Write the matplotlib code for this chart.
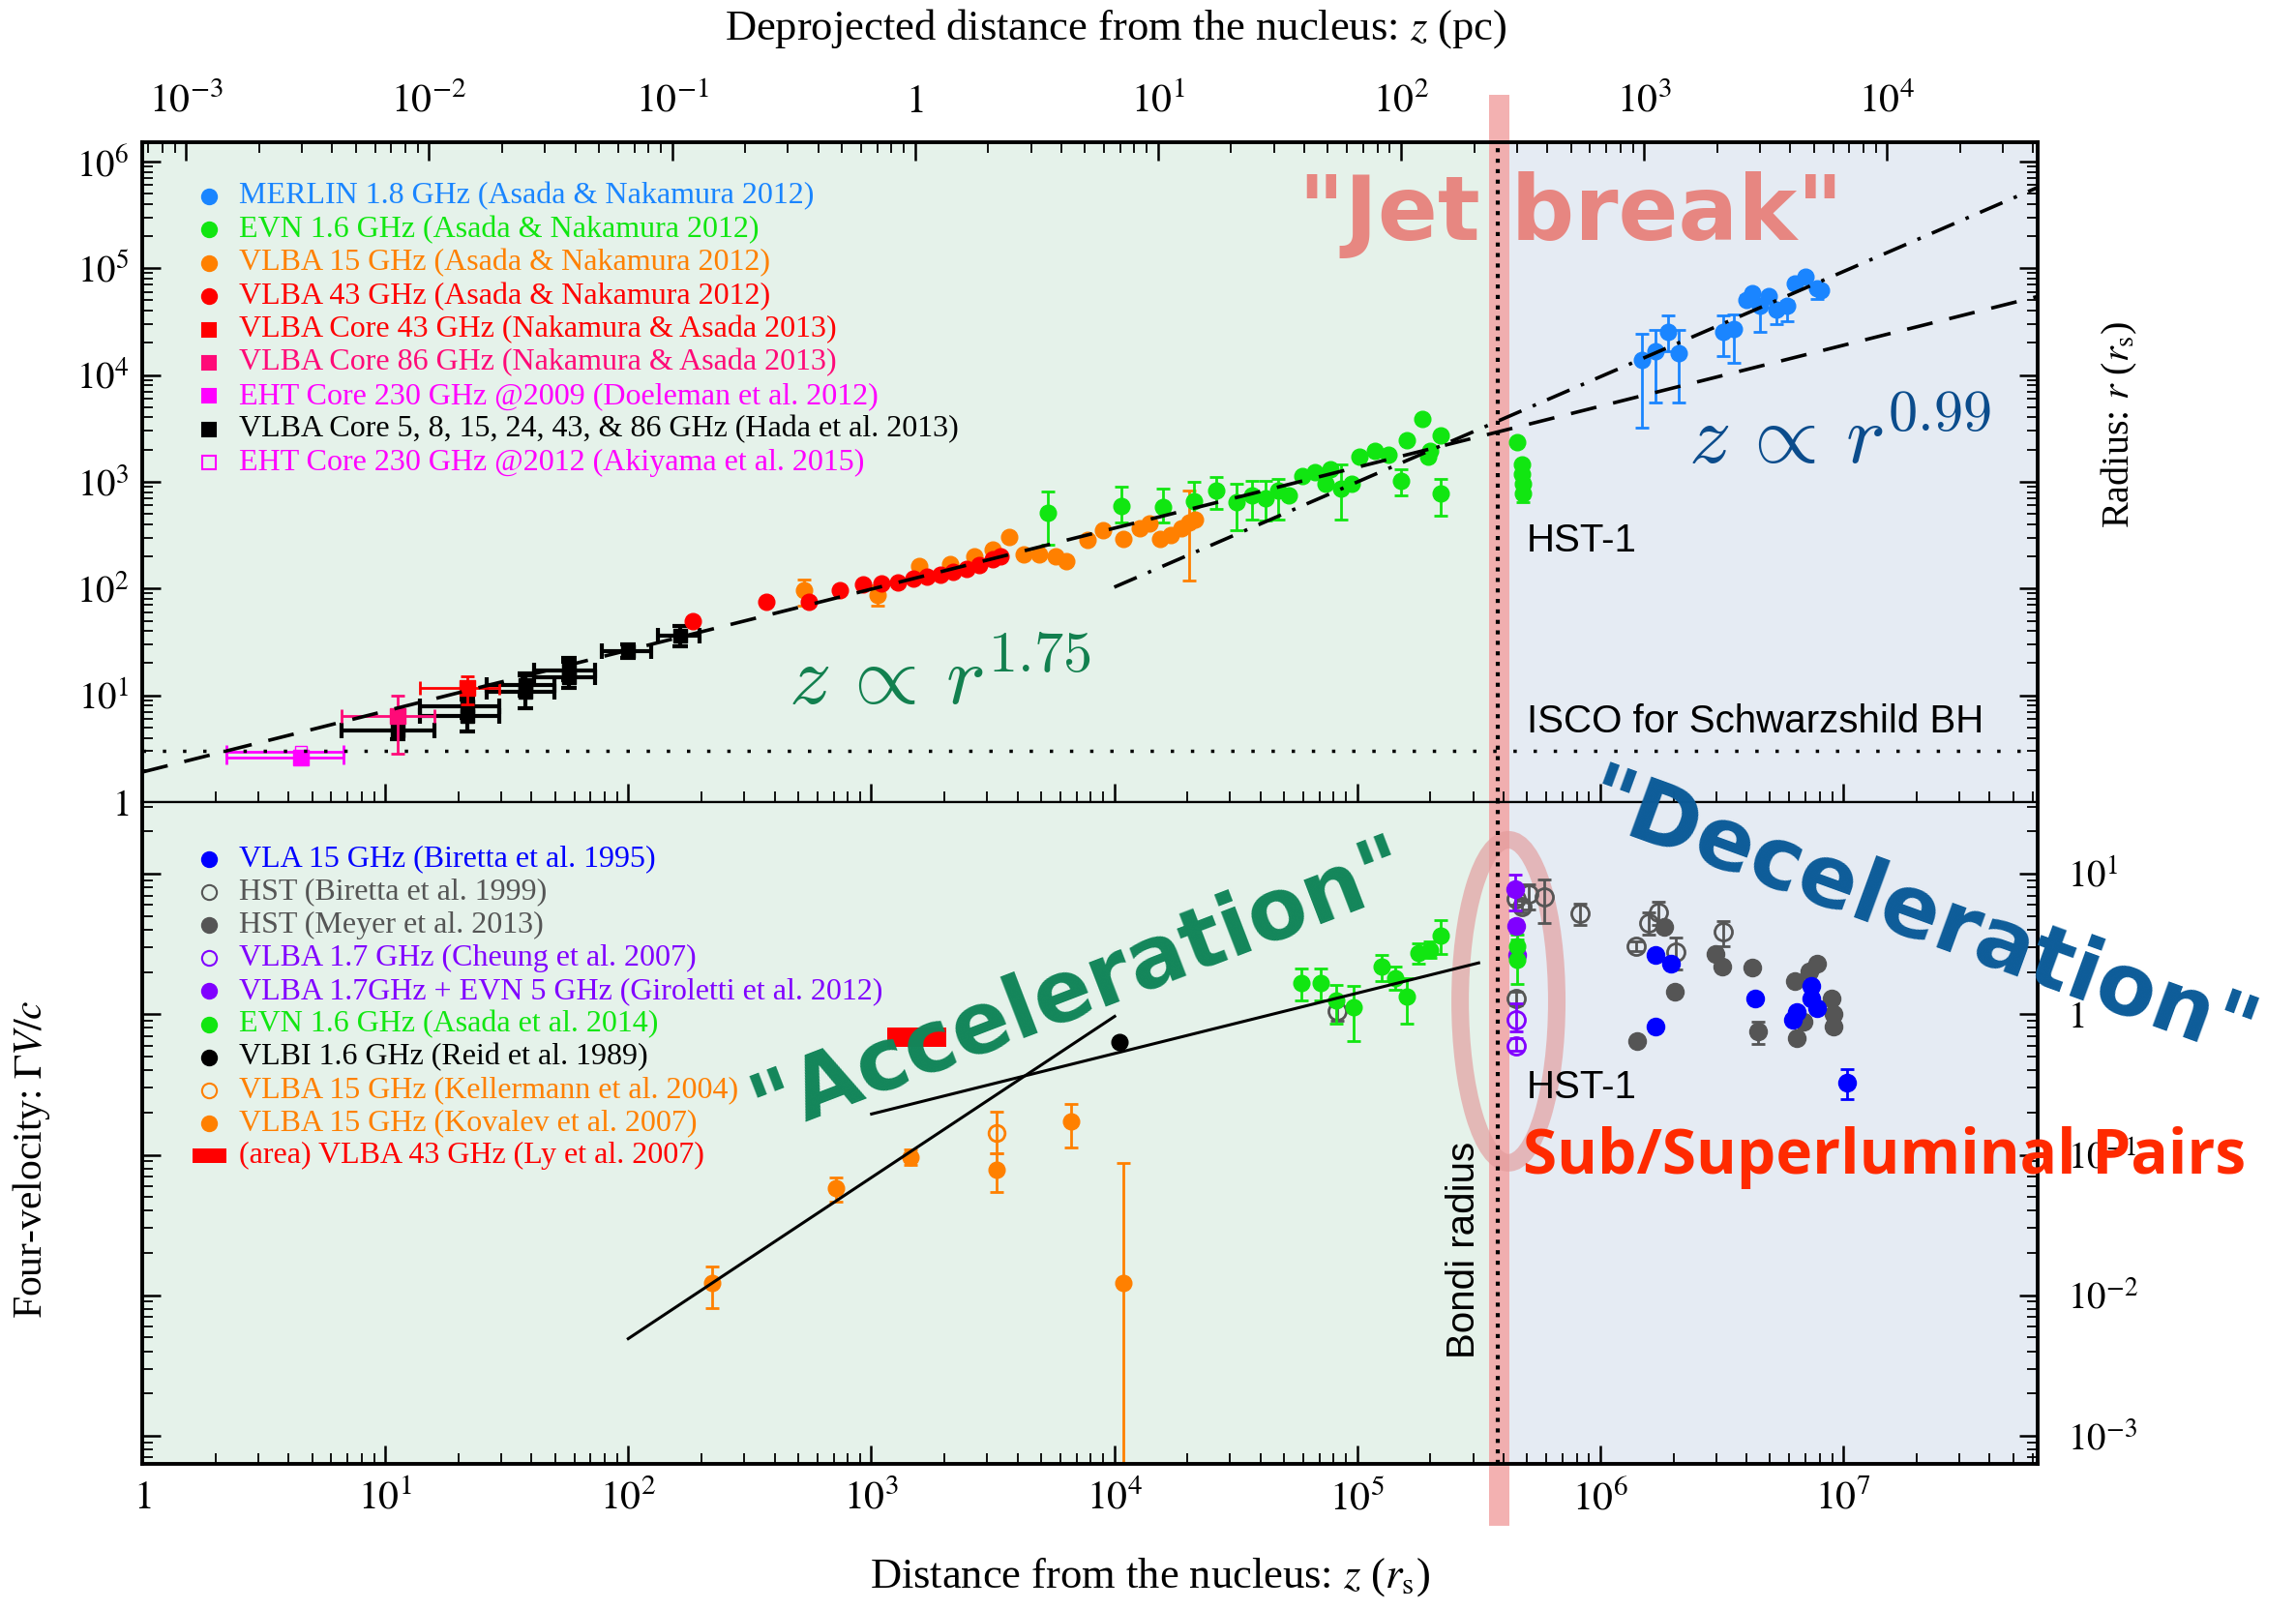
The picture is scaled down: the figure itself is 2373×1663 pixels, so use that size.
import numpy as np
import matplotlib
matplotlib.use("Agg")
import matplotlib.pyplot as plt
from matplotlib.ticker import LogLocator, FixedLocator, FuncFormatter, NullFormatter
from matplotlib.lines import Line2D
from matplotlib.patches import Ellipse, Rectangle

W, H, DPI = 2373, 1663, 100
plt.rcParams['font.family'] = ['Liberation Serif', 'DejaVu Serif']
plt.rcParams['mathtext.fontset'] = 'stix'

# ======================= DATA (upper panel: radius r vs z, in r_s) =======================
merlin_z = [1.48e6, 1.69e6, 1.90e6, 2.11e6, 3.22e6, 3.55e6, 3.98e6, 4.23e6, 4.56e6, 4.93e6,
            5.32e6, 5.86e6, 6.33e6, 6.97e6, 7.82e6, 8.13e6]
merlin_r = [1.37e4, 1.67e4, 2.56e4, 1.61e4, 2.53e4, 2.71e4, 5.07e4, 5.83e4, 4.42e4, 5.43e4,
            4.12e4, 4.42e4, 7.19e4, 8.26e4, 6.47e4, 6.25e4]
merlin_rlo = [3.18e3, 5.58e3, 1.67e4, 5.47e3, 1.50e4, 1.31e4, 4.6e4, 5.3e4, 2.56e4, 5.0e4,
              3.0e4, 3.2e4, 6.6e4, 7.6e4, 5.1e4, 5.8e4]
merlin_rhi = [2.44e4, 2.62e4, 3.58e4, 2.62e4, 3.63e4, 3.71e4, 5.6e4, 6.4e4, 4.9e4, 5.9e4,
              4.6e4, 4.9e4, 7.8e4, 9.0e4, 7.0e4, 6.8e4]

evn_z = [5320, 10660, 15880, 21200, 26370, 31800, 36900, 41800, 47300, 52200,
         59200, 67000, 74000, 77700, 85900, 94800, 102000, 118600, 134000, 152000,
         159700, 185000, 195000, 199600, 220000, 220000, 453000, 476000, 476000, 480000, 480000]
evn_r = [514, 598, 582, 656, 836, 646, 753, 703, 836, 753,
         1143, 1228, 961, 1315, 865, 961, 1734, 1928, 1800, 1030,
         2460, 3870, 1734, 1928, 2730, 780, 2370, 1459, 1183, 961, 780]
evn_rlo = [256, 417, 417, 480, 551, 351, 447, 430, 447, 753,
           1143, 1228, 961, 1315, 447, 961, 1734, 1928, 1800, 753,
           2460, 3870, 1734, 1928, 2730, 480, 2370, 1459, 1183, 961, 650]
evn_rhi = [808, 897, 865, 1000, 1120, 961, 1030, 1030, 1067, 753,
           1143, 1228, 961, 1315, 1459, 961, 1734, 1928, 1800, 1315,
           2460, 3870, 1734, 1928, 2730, 1067, 2370, 1459, 1183, 961, 900]

a15_z = [531, 1057, 1575, 2120, 2655, 3158, 3706, 4256, 4930, 5730, 6330,
         7730, 8960, 10930, 12700, 14000, 15500, 17100, 18900, 20300, 21400]
a15_r = [96.7, 87, 163, 169, 201, 231, 305, 208, 208, 201, 181,
         285, 351, 294, 363, 403, 294, 316, 363, 417, 447]
a15_rlo = [69.7, 69.7, 163, 169, 201, 231, 305, 208, 208, 201, 181,
           285, 351, 294, 363, 403, 294, 316, 363, 119, 447]
a15_rhi = [121.6, 107, 163, 169, 201, 231, 305, 208, 208, 201, 181,
           285, 351, 294, 363, 403, 294, 316, 363, 836, 447]

a43_z = [185, 370, 555, 741, 926, 1103, 1292, 1485, 1700, 1923, 2178, 2466, 2793, 3158, 3404]
a43_r = [49.5, 75.8, 75.8, 96.7, 109, 111, 115, 123, 129, 135, 142, 152, 166, 187, 201]

core43_z = [21.7]; core43_r = [11.7]
core43_zlo = [13.9]; core43_zhi = [29.4]; core43_rlo = [8.24]; core43_rhi = [15.1]
core86_z = [11.3]; core86_r = [6.4]
core86_zlo = [6.6]; core86_zhi = [16.0]; core86_rlo = [2.84]; core86_rhi = [9.9]
eht09_z = [4.5]; eht09_r = [2.6]; eht09_zlo = [2.23]; eht09_zhi = [6.75]
eht12_z = [4.5]; eht12_r = [2.95]; eht12_zlo = [2.23]; eht12_zhi = [6.75]

hada_z = [11.3, 21.7, 21.7, 37.9, 37.9, 56.8, 56.8, 99.5, 163]
hada_r = [4.7, 6.4, 7.9, 10.8, 12.4, 14.8, 17.0, 26.0, 36.5]
hada_zlo = [6.6, 13.9, 13.9, 26.1, 26.1, 40.9, 40.9, 77.6, 133]
hada_zhi = [16.0, 29.4, 29.4, 49.5, 49.5, 72.8, 72.8, 124, 196]
hada_rlo = [3.9, 4.6, 6.2, 7.6, 10.0, 11.8, 14.0, 22.5, 28.5]
hada_rhi = [5.6, 9.1, 9.6, 16.0, 15.5, 20.5, 22.5, 30.0, 45.0]

# fitted profiles (end points)
par_line_z = [1.0, 6.3e7];  par_line_r = [1.91, 5.43e4]     # z ∝ r^1.75
con_line_z = [1.0e4, 6.3e7]; con_line_r = [103, 5.7e5]      # z ∝ r^0.99
isco_r = 3.0

# ======================= DATA (lower panel: four-velocity vs z) =======================
kov_z = [221, 718, 1447, 3290, 6670, 10900]
kov_v = [0.0122, 0.0575, 0.0955, 0.0786, 0.172, 0.0122]
kov_vlo = [0.00814, 0.0466, 0.0851, 0.0543, 0.1135, 0.0003]
kov_vhi = [0.0161, 0.0692, 0.1096, 0.1023, 0.229, 0.0875]
kel_z = [3290]; kel_v = [0.142]; kel_vlo = [0.102]; kel_vhi = [0.204]
reid_z = [10500]; reid_v = [0.635]; reid_vlo = [0.60]; reid_vhi = [0.68]
ly_z = [1165, 2030]; ly_v = [0.586, 0.80]

ev14_z = [58800, 70600, 82000, 96900, 126000, 143000, 160000, 178600, 200000, 221000, 456000, 456000]
ev14_v = [1.67, 1.67, 1.25, 1.12, 2.19, 1.82, 1.34, 2.72, 2.88, 3.63, 3.07, 2.43]
ev14_vlo = [1.25, 1.25, 0.86, 0.645, 1.72, 1.5, 0.86, 2.3, 2.5, 2.7, 2.7, 1.63]
ev14_vhi = [2.1, 2.1, 1.62, 1.58, 2.65, 2.2, 1.82, 3.2, 3.3, 4.69, 3.4, 3.7]

gir_z = [4.45e5, 4.5e5, 4.55e5]; gir_v = [7.74, 4.22, 2.63]
gir_vlo = [5.5, 3.8, 2.4]; gir_vhi = [9.9, 4.7, 2.9]
che_z = [4.5e5, 4.5e5]; che_v = [0.914, 0.60]
che_vlo = [0.76, 0.55]; che_vhi = [1.19, 0.68]

bir99_z = [4.5e5, 4.75e5, 5.1e5, 5.9e5, 8.26e5, 1.41e6, 1.58e6, 1.74e6, 2.05e6, 3.22e6, 4.5e5, 82800]
bir99_v = [6.6, 5.8, 7.15, 6.8, 5.2, 3.04, 4.45, 5.27, 2.77, 3.84, 1.3, 1.05]
bir99_vlo = [6.0, 5.3, 5.6, 4.45, 4.29, 2.8, 3.7, 4.34, 2.07, 3.07, 1.15, 0.9]
bir99_vhi = [7.2, 6.4, 8.4, 9.06, 6.17, 3.3, 5.35, 6.3, 3.51, 4.57, 1.45, 1.2]

mey_z = [1.42e6, 1.84e6, 2.03e6, 2.98e6, 3.18e6, 4.23e6, 4.44e6, 6.32e6, 7.24e6, 7.77e6,
         8.96e6, 9.12e6, 9.12e6, 6.45e6, 6.84e6]
mey_v = [0.64, 4.16, 1.45, 2.7, 2.18, 2.15, 0.76, 1.72, 2.02, 2.3, 1.29, 1.01, 0.82, 0.68, 0.89]
mey_vlo = [0.64, 4.16, 1.45, 2.7, 2.18, 2.15, 0.61, 1.72, 2.02, 2.3, 1.29, 1.01, 0.82, 0.68, 0.89]
mey_vhi = [0.64, 4.16, 1.45, 2.7, 2.18, 2.15, 0.885, 1.72, 2.02, 2.3, 1.29, 1.01, 0.82, 0.68, 0.89]

vla_z = [1.69e6, 1.95e6, 1.69e6, 4.35e6, 7.41e6, 7.41e6, 7.82e6, 6.45e6, 6.2e6, 1.04e7]
vla_v = [2.63, 2.3, 0.82, 1.3, 1.59, 1.29, 1.10, 1.04, 0.91, 0.327]
vla_vlo = [2.63, 2.3, 0.82, 1.22, 1.59, 1.29, 1.10, 1.04, 0.91, 0.248]
vla_vhi = [2.63, 2.3, 0.82, 1.38, 1.59, 1.29, 1.10, 1.04, 0.91, 0.408]

acc1_z = [100, 10040]; acc1_v = [0.00491, 0.966]
acc2_z = [1003, 3.16e5]; acc2_v = [0.195, 2.32]

BONDI = 3.8e5          # Bondi radius (r_s)
PC = 10 ** 3.18        # r_s per pc

# tick decades
x_decades = [0, 1, 2, 3, 4, 5, 6, 7]
pc_decades = [-3, -2, -1, 0, 1, 2, 3, 4]
r_decades = [0, 1, 2, 3, 4, 5, 6]
v_decades = [-3, -2, -1, 0, 1]

upper_legend = [
    ('#1a85ff', 'o', True, 'MERLIN 1.8 GHz (Asada & Nakamura 2012)'),
    ('#11e611', 'o', True, 'EVN 1.6 GHz (Asada & Nakamura 2012)'),
    ('#ff8000', 'o', True, 'VLBA 15 GHz (Asada & Nakamura 2012)'),
    ('#ff0000', 'o', True, 'VLBA 43 GHz (Asada & Nakamura 2012)'),
    ('#ff0000', 's', True, 'VLBA Core 43 GHz (Nakamura & Asada 2013)'),
    ('#ff0a78', 's', True, 'VLBA Core 86 GHz (Nakamura & Asada 2013)'),
    ('#ff00ff', 's', True, 'EHT Core 230 GHz @2009 (Doeleman et al. 2012)'),
    ('#000000', 's', True, 'VLBA Core 5, 8, 15, 24, 43, & 86 GHz (Hada et al. 2013)'),
    ('#ff00ff', 's', False, 'EHT Core 230 GHz @2012 (Akiyama et al. 2015)'),
]
lower_legend = [
    ('#0000ff', 'o', True, 'VLA 15 GHz (Biretta et al. 1995)'),
    ('#555555', 'o', False, 'HST (Biretta et al. 1999)'),
    ('#555555', 'o', True, 'HST (Meyer et al. 2013)'),
    ('#8000ff', 'o', False, 'VLBA 1.7 GHz (Cheung et al. 2007)'),
    ('#8000ff', 'o', True, 'VLBA 1.7GHz + EVN 5 GHz (Giroletti et al. 2012)'),
    ('#11e611', 'o', True, 'EVN 1.6 GHz (Asada et al. 2014)'),
    ('#000000', 'o', True, 'VLBI 1.6 GHz (Reid et al. 1989)'),
    ('#ff8000', 'o', False, 'VLBA 15 GHz (Kellermann et al. 2004)'),
    ('#ff8000', 'o', True, 'VLBA 15 GHz (Kovalev et al. 2007)'),
    ('#ff0000', 'rect', True, '(area) VLBA 43 GHz (Ly et al. 2007)'),
]

# ======================= FIGURE =======================
fig = plt.figure(figsize=(W / DPI, H / DPI), dpi=DPI)
fig.patch.set_facecolor('white')


def fx(p):
    return p / W


def fy(p):
    return 1 - p / H


LEFT, RIGHT = 147, 2106
TOP1, MID, BOT2 = 147, 829, 1513
ax1 = fig.add_axes([fx(LEFT), fy(MID), (RIGHT - LEFT) / W, (MID - TOP1) / H])
ax2 = fig.add_axes([fx(LEFT), fy(BOT2), (RIGHT - LEFT) / W, (BOT2 - MID) / H])

XLIM = (1, 10 ** 7.8)
YLIM1 = (1, 10 ** 6.18)
YLIM2 = (10 ** -3.2, 10 ** 1.51)
GREEN_BG = '#e5f2ea'
BLUE_BG = '#e5ebf3'
BAND = '#f2a4a4'
BAND_X = (3.49e5, 4.24e5)


def logfmt(v, pos):
    e = int(round(np.log10(v)))
    return '$1$' if e == 0 else r'$10^{%d}$' % e


def set_log_ticks(axis, decades):
    axis.set_major_locator(FixedLocator([10.0 ** d for d in decades]))
    axis.set_minor_locator(LogLocator(10, subs=np.arange(2, 10), numticks=400))
    axis.set_major_formatter(FuncFormatter(logfmt))
    axis.set_minor_formatter(NullFormatter())


for ax, yl, yd in ((ax1, YLIM1, r_decades), (ax2, YLIM2, v_decades)):
    ax.set_xscale('log')
    ax.set_yscale('log')
    ax.set_xlim(*XLIM)
    ax.set_ylim(*yl)
    ax.axvspan(XLIM[0], BONDI, color=GREEN_BG, lw=0, zorder=0)
    ax.axvspan(BONDI, XLIM[1], color=BLUE_BG, lw=0, zorder=0)
    ax.axvline(BONDI, color='k', lw=3, ls=(0, (1, 1.6)), zorder=6)
    set_log_ticks(ax.xaxis, x_decades)
    set_log_ticks(ax.yaxis, yd)
    for s in ax.spines.values():
        s.set_linewidth(2.8)
        s.set_zorder(7)
    ax.tick_params(which='major', direction='in', length=14, width=1.8)
    ax.tick_params(which='minor', direction='in', length=8, width=1.3)

ax1.axvspan(*BAND_X, ymin=0, ymax=1.072, clip_on=False, color=BAND, alpha=0.85, lw=0, zorder=1.5)
ax2.axvspan(*BAND_X, ymin=-0.094, ymax=1, clip_on=False, color=BAND, alpha=0.85, lw=0, zorder=1.5)
ax1.spines['bottom'].set_linewidth(1.6)
ax2.spines['top'].set_linewidth(1.6)

ax1.tick_params(which='both', left=True, right=True, top=False, bottom=False,
                labelbottom=False, labelleft=True, labelright=False)
ax1.tick_params(axis='y', labelsize=28, pad=10)
ax2.tick_params(which='both', left=True, right=True, top=False, bottom=True,
                labelbottom=True, labelleft=False, labelright=True)
ax2.tick_params(axis='y', labelsize=28, pad=22)
ax2.tick_params(axis='x', labelsize=30, pad=12)

axpc = ax1.twiny()
axpc.set_xscale('log')
axpc.set_xlim(XLIM[0] / PC, XLIM[1] / PC)
set_log_ticks(axpc.xaxis, pc_decades)
axpc.tick_params(which='both', direction='in', top=True, bottom=False, labeltop=True, labelbottom=False)
axpc.tick_params(which='major', length=14, width=1.8, labelsize=30, pad=16)
axpc.tick_params(which='minor', length=8, width=1.3)
for s in axpc.spines.values():
    s.set_visible(False)


def errs(y, lo, hi):
    y = np.asarray(y, float)
    return [y - np.asarray(lo, float), np.asarray(hi, float) - y]


EB = dict(elinewidth=2.0, capsize=5, capthick=2.0, ls='none')

# ---------- upper panel ----------
ax1.errorbar(a15_z, a15_r, yerr=errs(a15_r, a15_rlo, a15_rhi), marker='o', ms=12,
             color='#ff8000', zorder=3, **EB)
ax1.plot(a43_z, a43_r, 'o', ms=12, color='#ff0000', zorder=3.2)
ax1.errorbar(evn_z, evn_r, yerr=errs(evn_r, evn_rlo, evn_rhi), marker='o', ms=12,
             color='#11e611', zorder=3, **EB)
ax1.errorbar(merlin_z, merlin_r, yerr=errs(merlin_r, merlin_rlo, merlin_rhi), marker='o', ms=12,
             color='#1a85ff', zorder=3, **EB)
ax1.errorbar(hada_z, hada_r, xerr=errs(hada_z, hada_zlo, hada_zhi), yerr=errs(hada_r, hada_rlo, hada_rhi),
             marker='s', ms=10, color='k', zorder=3.1, elinewidth=3.0, capsize=6, capthick=3.0, ls='none')
ax1.errorbar(eht09_z, eht09_r, xerr=errs(eht09_z, eht09_zlo, eht09_zhi), marker='s', ms=11,
             color='#ff00ff', zorder=3.3, **EB)
ax1.errorbar(eht12_z, eht12_r, xerr=errs(eht12_z, eht12_zlo, eht12_zhi), marker='s', ms=9,
             mfc='none', color='#ff00ff', zorder=3.3, **EB)
ax1.errorbar(core86_z, core86_r, xerr=errs(core86_z, core86_zlo, core86_zhi),
             yerr=errs(core86_r, core86_rlo, core86_rhi), marker='s', ms=11,
             color='#ff0a78', zorder=3.4, **EB)
ax1.errorbar(core43_z, core43_r, xerr=errs(core43_z, core43_zlo, core43_zhi),
             yerr=errs(core43_r, core43_rlo, core43_rhi), marker='s', ms=11,
             color='#ff0000', zorder=3.4, **EB)

ax1.plot(par_line_z, par_line_r, color='k', lw=2.6, ls=(0, (7.5, 4.9)), zorder=4)
ax1.plot(con_line_z, con_line_r, color='k', lw=2.6, ls=(0, (7, 3.5, 1, 3.5)), zorder=4)
ax1.axhline(isco_r, color='k', lw=2.5, ls=(0, (1, 5)), zorder=4)

# ---------- lower panel ----------
ax2.fill_between(ly_z, ly_v[0], ly_v[1], color='#ff0000', lw=0, zorder=3)
ax2.plot(acc1_z, acc1_v, color='k', lw=2.2, zorder=4)
ax2.plot(acc2_z, acc2_v, color='k', lw=2.2, zorder=4)
ax2.errorbar(kov_z, kov_v, yerr=errs(kov_v, kov_vlo, kov_vhi), marker='o', ms=12,
             color='#ff8000', zorder=3, **EB)
ax2.errorbar(kel_z, kel_v, yerr=errs(kel_v, kel_vlo, kel_vhi), marker='o', ms=12, mfc='none',
             mew=2, color='#ff8000', zorder=3, **EB)
ax2.errorbar(reid_z, reid_v, yerr=errs(reid_v, reid_vlo, reid_vhi), marker='o', ms=12,
             color='k', zorder=3, **EB)
ax2.errorbar(bir99_z, bir99_v, yerr=errs(bir99_v, bir99_vlo, bir99_vhi), marker='o', ms=13, mfc='none',
             mew=2, color='#555555', zorder=3, **EB)
ax2.errorbar(mey_z, mey_v, yerr=errs(mey_v, mey_vlo, mey_vhi), marker='o', ms=13,
             color='#555555', zorder=3, **EB)
ax2.errorbar(vla_z, vla_v, yerr=errs(vla_v, vla_vlo, vla_vhi), marker='o', ms=13,
             color='#0000ff', zorder=3.1, **EB)
ax2.errorbar(ev14_z, ev14_v, yerr=errs(ev14_v, ev14_vlo, ev14_vhi), marker='o', ms=12,
             color='#11e611', zorder=3.2, **EB)
ax2.errorbar(gir_z, gir_v, yerr=errs(gir_v, gir_vlo, gir_vhi), marker='o', ms=13,
             color='#8000ff', zorder=3.1, **EB)
ax2.errorbar(che_z, che_v, yerr=errs(che_v, che_vlo, che_vhi), marker='o', ms=13, mfc='none',
             mew=2, color='#8000ff', zorder=3.1, **EB)

ax2.add_patch(Ellipse((0.7208, 0.699), 0.051, 0.488, transform=ax2.transAxes, fill=False,
                      ec='#e39a9a', lw=13, alpha=0.65, zorder=2))

# ---------- legends ----------
for i, (c, m, filled, lab) in enumerate(upper_legend):
    y = 203 + 34.4 * i
    fig.add_artist(Line2D([fx(216)], [fy(y)], marker=m, ms=11 if m == 'o' else 10, ls='none',
                          color=c, mfc=c if filled else 'none', mew=1.5))
    fig.text(fx(247), fy(y), lab, color=c, fontsize=23, va='center', ha='left')

for i, (c, m, filled, lab) in enumerate(lower_legend):
    y = 888 + 34.1 * i
    if m == 'rect':
        fig.add_artist(Rectangle((fx(199), fy(y + 7.5)), 35 / W, 15 / H, color=c, lw=0))
    else:
        fig.add_artist(Line2D([fx(216)], [fy(y)], marker=m, ms=11, ls='none',
                              color=c, mfc=c if filled else 'none', mew=1.5))
    fig.text(fx(247), fy(y), lab, color=c, fontsize=23, va='center', ha='left')

# ---------- axis labels ----------
fig.text(fx(1153), fy(30), 'Deprojected distance from the nucleus: $z$ (pc)', ha='center', va='center', fontsize=32)
fig.text(fx(1188), fy(1630), r'Distance from the nucleus: $z$ ($r_\mathrm{s}$)', ha='center', va='center', fontsize=32)
fig.text(fx(33), fy(1198), r'Four-velocity: $\Gamma V/c$', ha='center', va='center', rotation=90, fontsize=30)
fig.text(fx(2190), fy(439), r'Radius: $r$ ($r_\mathrm{s}$)', ha='center', va='center', rotation=90, fontsize=29)

# ---------- annotations ----------
SANS = ['Liberation Sans', 'DejaVu Sans']
fig.text(fx(1578), fy(570), 'HST-1', family=SANS, fontsize=29, va='baseline')
fig.text(fx(1578), fy(1135), 'HST-1', family=SANS, fontsize=29, va='baseline')
fig.text(fx(1578), fy(757), 'ISCO for Schwarzshild BH', family=SANS, fontsize=29, va='baseline')
fig.text(fx(1513), fy(1292), 'Bondi radius', family=SANS, fontsize=29, rotation=90, ha='center', va='center')
fig.text(fx(1574), fy(1213), 'Sub/Superluminal Pairs', family=['Open Sans', 'DejaVu Sans'], weight='bold',
         color='#ff2a00', fontsize=46, va='baseline', zorder=8)

fig.text(fx(815), fy(728), r'$z\,\propto\,r^{1.75}$', math_fontfamily='cm', fontsize=62, color='#12804f', va='baseline')
fig.text(fx(1745), fy(479), r'$z\,\propto\,r^{0.99}$', math_fontfamily='cm', fontsize=62, color='#0b4c8c', va='baseline')

HAND = ['DejaVu Sans']
fig.text(fx(1623), fy(222), '"Jet break"', family=HAND, weight='bold', fontsize=66, color='#e8817b',
         ha='center', va='center', alpha=0.95)
fig.text(fx(1116), fy(1021), '"Acceleration"', family=HAND, weight='bold', fontsize=64, color='#13865a',
         ha='center', va='center', rotation=21, rotation_mode='anchor')
fig.text(fx(1985), fy(950), '"Deceleration"', family=HAND, weight='bold', fontsize=64, color='#0d5c99',
         ha='center', va='center', rotation=-20, rotation_mode='anchor')

fig.savefig('out.png', dpi=DPI)
